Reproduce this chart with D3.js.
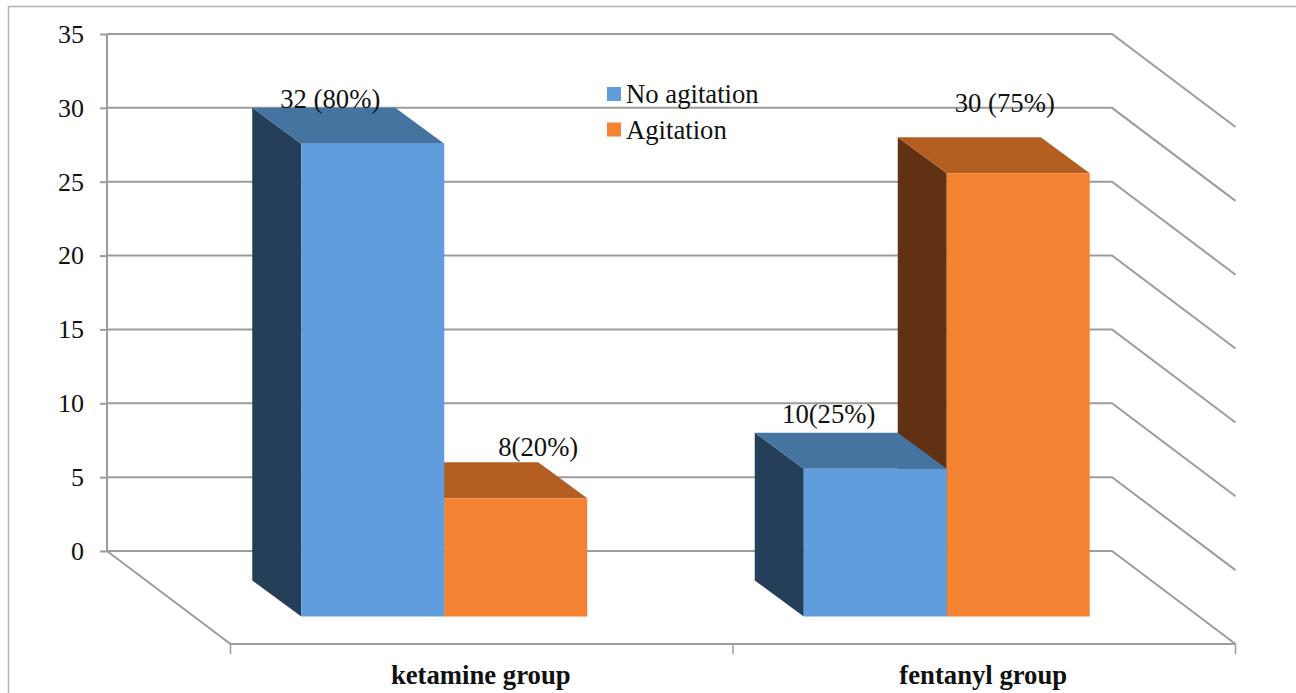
<!DOCTYPE html>
<html>
<head>
<meta charset="utf-8">
<script src="https://cdn.jsdelivr.net/npm/d3@7/dist/d3.min.js"></script>
<style>
  html, body { margin: 0; padding: 0; background: #fff; }
  svg { display: block; }
  text { font-family: "Liberation Serif", "Times New Roman", serif; fill: #111; }
</style>
</head>
<body>
<svg id="chart" width="1296" height="693"></svg>
<script>
// Patient counts per study group
const groups = ["ketamine group", "fentanyl group"];
const seriesNames = ["No agitation", "Agitation"];
const noAgitation = [32, 10];
const agitation = [8, 30];
const noAgitationLabels = ["32 (80%)", "10(25%)"];
const agitationLabels = ["8(20%)", "30 (75%)"];
const yTicks = [0, 5, 10, 15, 20, 25, 30, 35];

// Hand-placed label nudges relative to the centre of each bar's rear top edge
const noAgitationNudge = [[6.5, 0], [2.5, -10]];
const agitationNudge = [[71.5, -6.5], [35.5, -25]];

const seriesColors = [
  { front: "#5f9ddc", top: "#4574a1", side: "#243f57" },
  { front: "#f38233", top: "#b55e22", side: "#613114" }
];
const gridColor = "#9c9c9c";
const frameColor = "#b4b4b4";
const labelSize = 26.7;

const svg = d3.select("#chart");

// Back wall placement and the oblique vector that carries a point to the front of the floor
const wall = { left: 107, right: 1112, top: 34, bottom: 551 };
const depthVec = { x: 123.5, y: 93 };
// Offsets of the bars' rear and front faces from the back wall
const barDepth = { back: { dx: 37, dy: 29.5 }, front: { dx: 86, dy: 65.5 } };

const x0 = d3.scaleBand().domain(groups).range([0, wall.right - wall.left]);
const y = d3.scaleLinear().domain([0, 35]).range([wall.bottom, wall.top]);
const barWidth = 143;
const x1 = d3.scaleBand().domain(seriesNames)
  .range([x0.bandwidth() / 2 - barWidth, x0.bandwidth() / 2 + barWidth]);

// Project a point (horizontal offset, value, face offset) onto the page
const project = (px, value, face) => [
  wall.left + px + face.dx,
  y(value) + face.dy
];
const poly = pts => pts.map(p => p.join(",")).join(" ");

// Outer frame of the figure
svg.append("path")
  .attr("d", "M8.5,693V6.5H1296")
  .attr("fill", "none")
  .attr("stroke", frameColor)
  .attr("stroke-width", 1.5);

// Gridlines run along the back wall and then forward along the side wall
const grid = svg.append("g").attr("fill", "none").attr("stroke", gridColor).attr("stroke-width", 2);
grid.selectAll("polyline.grid").data(yTicks).join("polyline")
  .attr("class", "grid")
  .attr("points", d => poly([
    [wall.left, y(d)],
    [wall.right, y(d)],
    [wall.right + depthVec.x, y(d) + depthVec.y]
  ]));

// Floor edges and the category tick marks along the front
const frontY = wall.bottom + depthVec.y;
const frontX = px => wall.left + depthVec.x + px;
grid.append("polyline").attr("points", poly([
  [wall.left, wall.bottom],
  [wall.left + depthVec.x, frontY],
  [wall.right + depthVec.x, frontY]
]));
const catTicks = [...groups.map(g => x0(g)), x0.range()[1]];
grid.selectAll("line.cat").data(catTicks).join("line")
  .attr("class", "cat")
  .attr("x1", d => frontX(d)).attr("x2", d => frontX(d))
  .attr("y1", frontY).attr("y2", frontY + 10)
  .attr("stroke-width", 1.5);

// Value axis on the left edge of the back wall
const yAxis = svg.append("g")
  .attr("transform", `translate(${wall.left},0)`)
  .call(d3.axisLeft(y).tickValues(yTicks).tickSize(7).tickPadding(16));
yAxis.selectAll("path, line").attr("stroke", gridColor).attr("stroke-width", 2);
yAxis.select("path").attr("d", `M0,${wall.top}V${wall.bottom}`);
yAxis.selectAll("text")
  .attr("font-size", 26)
  .style("font-family", '"Liberation Serif", serif')
  .attr("fill", "#111");

// Draw one 3D bar: side face, top face, then front face
function drawBar(layer, groupName, seriesName, value, colors) {
  const left = x0(groupName) + x1(seriesName);
  const right = left + x1.bandwidth();
  const g = layer.append("g");
  g.append("polygon").attr("fill", colors.side).attr("points", poly([
    project(left, value, barDepth.back),
    project(left, value, barDepth.front),
    project(left, 0, barDepth.front),
    project(left, 0, barDepth.back)
  ]));
  g.append("polygon").attr("fill", colors.top).attr("points", poly([
    project(left, value, barDepth.back),
    project(right, value, barDepth.back),
    project(right, value, barDepth.front),
    project(left, value, barDepth.front)
  ]));
  g.append("polygon").attr("fill", colors.front).attr("points", poly([
    project(left, value, barDepth.front),
    project(right, value, barDepth.front),
    project(right, 0, barDepth.front),
    project(left, 0, barDepth.front)
  ]));
}

// Agitation goes first so the No agitation bar sits over its hidden faces
const bars = svg.append("g");
groups.forEach((g, i) => {
  drawBar(bars, g, seriesNames[1], agitation[i], seriesColors[1]);
  drawBar(bars, g, seriesNames[0], noAgitation[i], seriesColors[0]);
});

// Value labels
const labels = svg.append("g").attr("font-size", labelSize).attr("text-anchor", "middle");
function drawLabel(groupName, seriesName, value, text, nudge) {
  const cx = x0(groupName) + x1(seriesName) + x1.bandwidth() / 2;
  const p = project(cx, value, barDepth.back);
  labels.append("text").attr("x", p[0] + nudge[0]).attr("y", p[1] + nudge[1]).text(text);
}
groups.forEach((g, i) => {
  drawLabel(g, seriesNames[0], noAgitation[i], noAgitationLabels[i], noAgitationNudge[i]);
  drawLabel(g, seriesNames[1], agitation[i], agitationLabels[i], agitationNudge[i]);
});

// Category names under the floor
svg.append("g").selectAll("text").data(groups).join("text")
  .attr("x", d => frontX(x0(d) + x0.bandwidth() / 2) - 1)
  .attr("y", 684)
  .attr("text-anchor", "middle")
  .attr("font-size", labelSize)
  .attr("font-weight", "bold")
  .text(d => d);

// Legend
const legend = svg.append("g").selectAll("g").data(seriesNames).join("g")
  .attr("transform", (d, i) => `translate(607,${87 + i * 35.5})`);
legend.append("rect").attr("width", 14).attr("height", 14)
  .attr("fill", (d, i) => seriesColors[i].front);
legend.append("text").attr("x", 19).attr("y", 16).attr("font-size", labelSize).text(d => d);
</script>
</body>
</html>
